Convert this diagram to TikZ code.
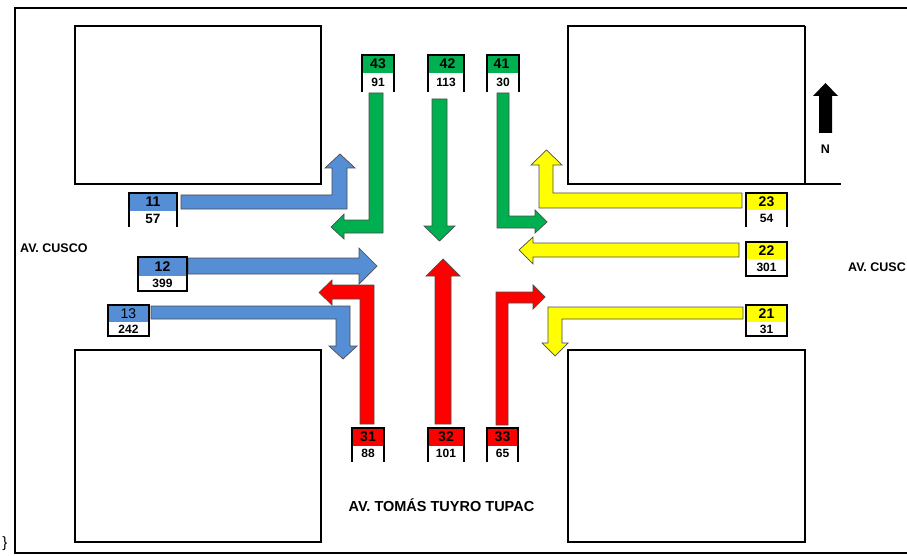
\documentclass[tikz,border=0pt]{standalone}
\usepackage{fontspec}
\setmainfont{Liberation Sans}

\definecolor{flowblue}{RGB}{85,142,213}
\definecolor{flowgreen}{RGB}{0,176,80}
\definecolor{flowred}{RGB}{255,0,0}
\definecolor{flowyellow}{RGB}{255,255,0}

% Counting station tag: coloured id cell above a white value cell.
% #1 name, #2 left x, #3 right x, #4 top y, #5 middle y, #6 bottom y,
% #7 colour, #8 id text, #9 value text
\newcommand\countbox[9]{%
  \node[idcell, fill=#7, minimum width={#3-#2}, minimum height={#5-#4}]
    (#1id) at ({(#2+#3)/2},{(#4+#5)/2}) {#8};
  \node[valcell, minimum width={#3-#2}, minimum height={#6-#5}, text width={#3-#2-4}]
    (#1val) at ({(#2+#3)/2},{(#5+#6)/2}) {#9};
  \draw[cellline] (#1val.south west) -- (#1id.north west) -- (#1id.north east) -- (#1val.south east);
}

\begin{document}
\begin{tikzpicture}[x=1pt,y=-1pt,
  idcell/.style={inner sep=0pt, font=\fontsize{14}{14}\selectfont\bfseries},
  valcell/.style={inner xsep=2pt, inner ysep=0pt, align=center, font=\fontsize{12}{12}\selectfont\bfseries},
  cellline/.style={line width=1.5pt, line cap=rect},
  blockline/.style={line width=1.4pt},
  flow/.style={draw=black!70, line width=0.7pt, line join=miter},
  street/.style={font=\fontsize{12.5}{13}\selectfont\bfseries, inner sep=0pt}]

\useasboundingbox (0,0) rectangle (907,556);

% outer frame, open to the right
\draw[line width=2pt] (907,8) -- (15,8) -- (15,553) -- (907,553);

% city blocks
\draw[blockline] (75,26) rectangle (321,184);
\draw[blockline] (805,26) -- (568,26) -- (568,184) -- (841,184);
\draw[blockline] (805,26) -- (805,184);
\draw[blockline] (75,350) rectangle (321,542);
\draw[blockline] (568,350) rectangle (805,542);

% west approach (blue)
\draw[flow, fill=flowblue] (181,195) -- (332,195) -- (332,168) -- (325,168) -- (340,154) -- (355,168) -- (347,168) -- (347,209) -- (181,209) -- cycle;
\draw[flow, fill=flowblue] (188,258) -- (359,258) -- (359,248) -- (377,266) -- (359,284) -- (359,274) -- (188,274) -- cycle;
\draw[flow, fill=flowblue] (151,306) -- (350,306) -- (350,346) -- (357,346) -- (343,359) -- (329,346) -- (336,346) -- (336,319) -- (151,319) -- cycle;

% north approach (green)
\draw[flow, fill=flowgreen] (369,93) -- (383,93) -- (383,233) -- (344,233) -- (344,239) -- (331,227) -- (344,214) -- (344,220) -- (369,220) -- cycle;
\draw[flow, fill=flowgreen] (432,99) -- (447,99) -- (447,226) -- (455,226) -- (439.5,241) -- (424,226) -- (432,226) -- cycle;
\draw[flow, fill=flowgreen] (497,93) -- (509,93) -- (509,216) -- (535,216) -- (535,210) -- (547,222) -- (535,233) -- (535,228) -- (497,228) -- cycle;

% east approach (yellow)
\draw[flow, fill=flowyellow] (742,193) -- (553,193) -- (553,165) -- (562,165) -- (546.5,150) -- (531,165) -- (539,165) -- (539,208) -- (742,208) -- cycle;
\draw[flow, fill=flowyellow] (739,243) -- (533,243) -- (533,237) -- (519,250) -- (533,264) -- (533,257) -- (739,257) -- cycle;
\draw[flow, fill=flowyellow] (743,307) -- (548,307) -- (548,343) -- (542,343) -- (555,356) -- (568,343) -- (562,343) -- (562,319) -- (743,319) -- cycle;

% south approach (red)
\draw[flow, fill=flowred] (374,424) -- (374,285) -- (332,285) -- (332,280) -- (319,292.5) -- (332,305) -- (332,299) -- (360,299) -- (360,424) -- cycle;
\draw[flow, fill=flowred] (435,424) -- (435,276) -- (426,276) -- (443,259) -- (460,276) -- (451,276) -- (451,424) -- cycle;
\draw[flow, fill=flowred] (496,425) -- (496,292) -- (533,292) -- (533,285) -- (545,297) -- (533,309) -- (533,303) -- (508,303) -- (508,425) -- cycle;

% counting tags
\countbox{t11}{129}{177}{193}{211}{226}{flowblue}{11}{\fontsize{13.5}{13.5}\selectfont 57}
\countbox{t12}{138}{187}{257}{276}{291}{flowblue}{12}{399}
\countbox{t13}{108}{149}{305}{322}{336}{flowblue}{\mdseries 13}{242}
\draw[cellline] (t12val.south west) -- (t12val.south east);
\draw[cellline] (t13val.south west) -- (t13val.south east);

\countbox{t43}{362}{394}{55}{73}{91}{flowgreen}{43}{91}
\countbox{t42}{428}{464}{55}{73}{91}{flowgreen}{\hspace*{3pt}42}{\raggedright 113}
\countbox{t41}{487}{519}{55}{73}{91}{flowgreen}{41\hspace*{3pt}}{\raggedleft 30}

\countbox{t23}{746}{787}{193}{210}{226}{flowyellow}{23}{54}
\countbox{t22}{746}{787}{242}{259}{276}{flowyellow}{22}{301}
\countbox{t21}{746}{787}{305}{322}{336}{flowyellow}{21}{31}
\draw[cellline] (t22val.south west) -- (t22val.south east);
\draw[cellline] (t21val.south west) -- (t21val.south east);

\countbox{t31}{352}{384}{428}{446}{461}{flowred}{31}{88}
\countbox{t32}{428}{464}{428}{446}{461}{flowred}{32}{101}
\countbox{t33}{487}{518}{428}{446}{461}{flowred}{33}{\raggedleft 65}

% street names
\node[street, anchor=west] (cuscow) at (20,248) {AV. CUSCO};
\node[street, anchor=west] (cuscoe) at (848,267.5) {AV. CUSC};
\node[street, font=\fontsize{14.5}{15}\selectfont\bfseries] (tupac) at (441.5,505) {AV. TOMÁS TUYRO TUPAC};

% north marker
\fill (819,133) -- (819,96) -- (813,96) -- (825.5,83) -- (838,96) -- (832,96) -- (832,133) -- cycle;
\node[font=\fontsize{12.5}{13}\selectfont\bfseries] (north) at (825.5,149) {N};

\node[font=\fontsize{15}{16}\selectfont, inner sep=0pt] (brace) at (5,544) {\}};

\end{tikzpicture}
\end{document}
